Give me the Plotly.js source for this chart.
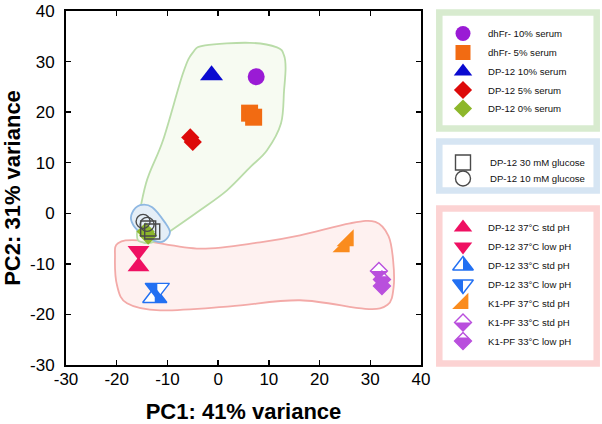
<!DOCTYPE html>
<html><head><meta charset="utf-8">
<script src="https://cdn.plot.ly/plotly-3.0.1.min.js"></script>
<style>html,body{margin:0;padding:0;background:#fff}</style>
</head><body><div id="chart" style="width:602px;height:424px"></div>
<script>
// ---- axis ticks ----
const X_TICKS = [-30, -20, -10, 0, 10, 20, 30, 40];
const X_TICK_LABELS = ['-30', '-20', '-10', '0', '10', '20', '30', '40'];
const Y_TICKS = [-30, -20, -10, 0, 10, 20, 30, 40];
const Y_TICK_LABELS = ['-30', '-20', '-10', '0', '10', '20', '30', '40'];

// ---- series (PC1, PC2) ----
const dhfr10X = [7.5],          dhfr10Y = [27.0];
const dhfr5X = [6.2, 7.0],      dhfr5Y = [19.8, 19.0];
const dp10X = [-1.3],           dp10Y = [27.3];
const dp5X = [-5.5, -5.0],      dp5Y = [15.0, 14.1];
const dp0X = [-14.3, -13.8],    dp0Y = [-3.6, -4.4];
const glc30X = [-13.8, -13.0],  glc30Y = [-3.0, -3.6];
const glc10X = [-14.8, -14.0],  glc10Y = [-1.6, -2.2];
const dp37stdX = [-15.7],       dp37stdY = [-10.5];
const dp37lowX = [-15.7],       dp37lowY = [-7.4];
const dp33stdX = [-12.5],       dp33stdY = [-16.6];
const dp33lowX = [-12.0],       dp33lowY = [-14.9];
const k137stdX = [24.8, 25.6],  k137stdY = [-6.6, -5.4];
const k133stdX = [31.7],        k133stdY = [-11.4];
const k133lowX = [32.3, 32.3],  k133lowY = [-13.1, -14.4];

// ---- group outlines (hull vertices) ----
const greenHullX = [-14.82, -16.0, -14.22, -10.87, -6.93, -4.96, -2.59, 6.28, 11.61, 12.99, 13.3, 13.0, 12.4, 9.64, 6.28, 1.75, -3.58, -9.49, -12.45];
const greenHullY = [-5.74, -3.96, 5.93, 14.43, 27.68, 31.83, 33.22, 33.71, 32.82, 31.24, 28.67, 24.32, 17.79, 12.45, 9.09, 4.54, 0.58, -3.57, -5.54];
const blueHullX = [-17.0, -15.4, -13.0, -10.5, -9.5, -10.7, -12.4, -15.4, -17.0];
const blueHullY = [0.0, 1.6, 1.2, -1.8, -3.8, -5.5, -5.5, -3.8, -1.8];
const pinkHullX = [-19.75, -15.41, -3.58, 8.26, 16.14, 26.0, 31.0, 33.6, 34.5, 34.6, 33.4, 29.0, 16.14, 2.34, -11.46, -17.97, -19.94, -20.34];
const pinkHullY = [-5.94, -5.35, -7.0, -5.74, -4.36, -1.98, -1.7, -4.5, -9.28, -14.62, -18.1, -18.9, -17.2, -18.4, -19.19, -17.8, -14.24, -8.7];

const FONT = 'Liberation Sans, Arial, Helvetica, sans-serif';

// series styles: symbol, plot size, legend size, color, open, half-fill kind, legend group
const series = [
  {name: 'dhFr- 10% serum', x: dhfr10X, y: dhfr10Y, symbol: 'circle', size: 17, lsize: 15, color: '#9A1BD5', grp: 0},
  {name: 'dhFr- 5% serum', x: dhfr5X, y: dhfr5Y, symbol: 'square', size: 17, lsize: 15, color: '#F26B12', grp: 0},
  {name: 'DP-12 10% serum', x: dp10X, y: dp10Y, symbol: 'triangle-up', size: 20, lsize: 16, color: '#0A0AD0', grp: 0},
  {name: 'DP-12 5% serum', x: dp5X, y: dp5Y, symbol: 'diamond', size: 14, lsize: 14, color: '#DD0A0A', grp: 0},
  {name: 'DP-12 0% serum', x: dp0X, y: dp0Y, symbol: 'diamond', size: 14, lsize: 14, color: '#8DB72B', grp: 0},
  {name: 'DP-12 30 mM glucose', x: glc30X, y: glc30Y, symbol: 'square-open', size: 15, lsize: 15, color: '#4A4A4A', grp: 1, open: true},
  {name: 'DP-12 10 mM glucose', x: glc10X, y: glc10Y, symbol: 'circle-open', size: 14, lsize: 15, color: '#4A4A4A', grp: 1, open: true},
  {name: 'DP-12 37°C std pH', x: dp37stdX, y: dp37stdY, symbol: 'triangle-up', size: 19, lsize: 16, color: '#EF1062', grp: 2},
  {name: 'DP-12 37°C low pH', x: dp37lowX, y: dp37lowY, symbol: 'triangle-down', size: 19, lsize: 16, color: '#EF1062', grp: 2},
  {name: 'DP-12 33°C std pH', x: dp33stdX, y: dp33stdY, symbol: 'triangle-up', size: 21, lsize: 18, color: '#2270F2', grp: 2, half: 'triUpRight'},
  {name: 'DP-12 33°C low pH', x: dp33lowX, y: dp33lowY, symbol: 'triangle-down', size: 21, lsize: 18, color: '#2270F2', grp: 2, half: 'triDownLeft'},
  {name: 'K1-PF 37°C std pH', x: k137stdX, y: k137stdY, symbol: 'triangle-se', size: 19, lsize: 18, color: '#FA8C1E', grp: 2},
  {name: 'K1-PF 33°C std pH', x: k133stdX, y: k133stdY, symbol: 'diamond', size: 13, lsize: 13, color: '#B94FDD', grp: 2, half: 'diaBottom'},
  {name: 'K1-PF 33°C low pH', x: k133lowX, y: k133lowY, symbol: 'diamond', size: 13, lsize: 13, color: '#B94FDD', grp: 2, half: 'diaBottomLow'}
];
const drawOrder = [0, 1, 2, 3, 4, 5, 6, 7, 8, 9, 10, 11, 12, 13];

// legend boxes (pixel layout in the overlay axes)
const legendBoxes = [
  {y0: 12.5, y1: 128.5, border: '#D8EBCF', rows: [33.5, 52.5, 71.5, 90.0, 108.5], textX: 485.5},
  {y0: 141.5, y1: 190.5, border: '#D6E5F3', rows: [162.5, 178.5], textX: 487.5},
  {y0: 208.5, y1: 363.5, border: '#FCD3D3', rows: [227.5, 246.5, 265.5, 284.5, 303.5, 322.5, 341.0], textX: 486.0}
];
const LEG_MARK_X = 463;

function closedSmoothPath(xs, ys) {
  const n = xs.length;
  const P = i => [xs[(i + n) % n], ys[(i + n) % n]];
  let d = 'M' + xs[0] + ',' + ys[0];
  for (let i = 0; i < n; i++) {
    const p0 = P(i - 1), p1 = P(i), p2 = P(i + 1), p3 = P(i + 2);
    const c1 = [p1[0] + (p2[0] - p0[0]) / 6, p1[1] + (p2[1] - p0[1]) / 6];
    const c2 = [p2[0] - (p3[0] - p1[0]) / 6, p2[1] - (p3[1] - p1[1]) / 6];
    d += 'C' + c1[0].toFixed(3) + ',' + c1[1].toFixed(3) + ' ' + c2[0].toFixed(3) + ',' + c2[1].toFixed(3) + ' ' + p2[0] + ',' + p2[1];
  }
  return d + 'Z';
}

function halfPath(kind, size) {
  const r = size / 2, rt = r * 2 / Math.sqrt(3), rd = 1.3 * r;
  const f = v => v.toFixed(2);
  if (kind === 'triUpRight') return 'M0,' + f(r) + 'L' + f(rt) + ',' + f(-r / 2) + 'L0,' + f(-r / 2) + 'Z';
  if (kind === 'triDownLeft') return 'M0,' + f(-r) + 'L' + f(-rt) + ',' + f(r / 2) + 'L0,' + f(r / 2) + 'Z';
  if (kind === 'diaBottom') return 'M' + f(-rd) + ',0L' + f(rd) + ',0L0,' + f(-rd) + 'Z';
  const k = 0.4 * rd;
  return 'M' + f(-(rd - k)) + ',' + f(k) + 'L' + f(rd - k) + ',' + f(k) + 'L' + f(rd) + ',0L0,' + f(-rd) + 'L' + f(-rd) + ',0Z';
}

function markerFor(s, size) {
  if (s.open) return {symbol: s.symbol, size: size, color: s.color, line: {color: s.color, width: 1.4}};
  if (s.half) return {symbol: s.symbol, size: size, color: '#ffffff', line: {color: s.color, width: 1.4}};
  return {symbol: s.symbol, size: size, color: s.color, line: {width: 0}};
}

const traces = [];
const shapes = [];
const annotations = [];

// hulls
const hulls = [
  {x: pinkHullX, y: pinkHullY, line: '#F3AAA8', fill: '#FEF1F0'},
  {x: greenHullX, y: greenHullY, line: '#B9DCA8', fill: 'rgba(246,251,241,0.9)'},
  {x: blueHullX, y: blueHullY, line: '#8FB8E2', fill: '#E5EEF7'}
];
hulls.forEach(h => shapes.push({
  type: 'path', xref: 'x', yref: 'y', layer: 'below',
  path: closedSmoothPath(h.x, h.y), fillcolor: h.fill, line: {color: h.line, width: 1.8}
}));

// data traces
drawOrder.forEach(i => {
  const s = series[i];
  traces.push({type: 'scatter', mode: 'markers', name: s.name, x: s.x, y: s.y, xaxis: 'x', yaxis: 'y',
    marker: markerFor(s, s.size), cliponaxis: true, hoverinfo: 'name+x+y'});
  if (s.half) {
    s.x.forEach((xv, j) => shapes.push({
      type: 'path', xref: 'x', yref: 'y', xsizemode: 'pixel', ysizemode: 'pixel',
      xanchor: xv, yanchor: s.y[j], path: halfPath(s.half, s.size),
      fillcolor: s.color, line: {width: 0}, layer: 'above'
    }));
  }
});

// legend boxes, glyphs and labels
legendBoxes.forEach(b => shapes.push({
  type: 'rect', xref: 'x2', yref: 'y2', x0: 439.3, x1: 596.7, y0: b.y0, y1: b.y1,
  line: {color: b.border, width: 6.5}, fillcolor: '#ffffff', layer: 'below'
}));
const rowIdx = [0, 0, 0];
series.forEach(s => {
  const b = legendBoxes[s.grp];
  const ry = b.rows[rowIdx[s.grp]++];
  traces.push({type: 'scatter', mode: 'markers', x: [LEG_MARK_X], y: [ry], xaxis: 'x2', yaxis: 'y2',
    marker: markerFor(s, s.lsize), hoverinfo: 'skip', showlegend: false});
  if (s.half) shapes.push({
    type: 'path', xref: 'x2', yref: 'y2', xsizemode: 'pixel', ysizemode: 'pixel',
    xanchor: LEG_MARK_X, yanchor: ry, path: halfPath(s.half, s.lsize),
    fillcolor: s.color, line: {width: 0}, layer: 'above'
  });
  annotations.push({xref: 'x2', yref: 'y2', x: b.textX, y: ry, text: s.name, showarrow: false,
    xanchor: 'left', yanchor: 'middle', font: {family: FONT, size: 9.6, color: '#111'}});
});

const axisCommon = {
  range: [-30, 40], ticks: 'inside', ticklen: 5, tickwidth: 1.5, tickcolor: '#000',
  showline: true, linewidth: 2, linecolor: '#000', mirror: 'ticks',
  showgrid: false, zeroline: false, tickfont: {family: FONT, size: 17, color: '#000'},
  tickmode: 'array'
};

const layout = {
  width: 602, height: 424,
  margin: {l: 0, r: 0, t: 0, b: 0},
  paper_bgcolor: '#ffffff', plot_bgcolor: 'rgba(0,0,0,0)',
  showlegend: false,
  font: {family: FONT, color: '#000'},
  xaxis: Object.assign({}, axisCommon, {
    domain: [66 / 602, 421 / 602], anchor: 'y',
    tickvals: X_TICKS, ticktext: X_TICK_LABELS, ticklabelstandoff: -2,
    title: {text: '<b>PC1: 41% variance</b>', font: {family: FONT, size: 22, color: '#000'}, standoff: 22}
  }),
  yaxis: Object.assign({}, axisCommon, {
    domain: [59 / 424, 413 / 424], anchor: 'x',
    tickvals: Y_TICKS, ticktext: Y_TICK_LABELS, ticklabelstandoff: 6,
    title: {text: '<b>PC2: 31% variance</b>', font: {family: FONT, size: 22, color: '#000'}, standoff: 4}
  }),
  xaxis2: {domain: [0, 1], range: [0, 602], anchor: 'y2', visible: false, fixedrange: true},
  yaxis2: {domain: [0, 1], range: [424, 0], anchor: 'x2', visible: false, fixedrange: true},
  shapes: shapes,
  annotations: annotations
};

Plotly.newPlot('chart', traces, layout, {displayModeBar: false, staticPlot: true});
</script></body></html>
